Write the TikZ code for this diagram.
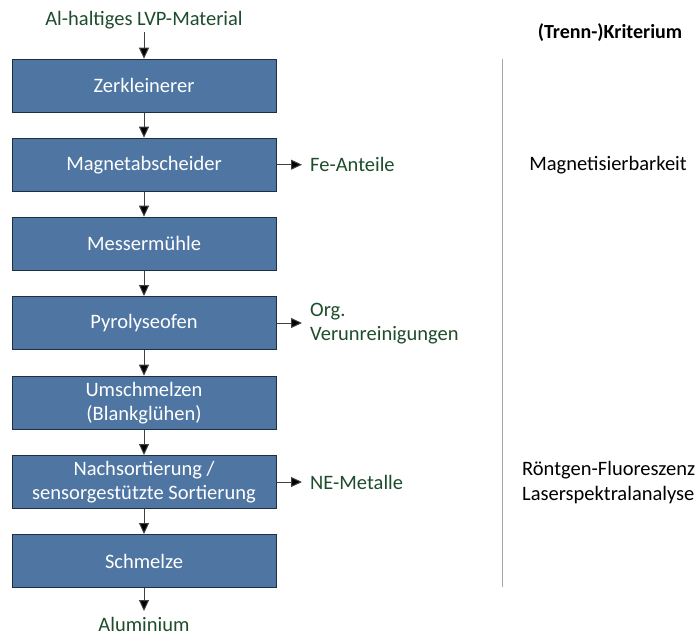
\documentclass[tikz,border=0pt]{standalone}
\usepackage{fontspec}
\setmainfont{Carlito}
\usetikzlibrary{arrows.meta}
\definecolor{boxfill}{HTML}{4F76A3}
\definecolor{boxline}{HTML}{1F2F42}
\definecolor{outgreen}{HTML}{1E4D2B}
\definecolor{sepgray}{HTML}{A6A6A6}
\tikzset{
  stepbox/.style={draw=boxline, line width=1pt, fill=boxfill, text=white,
    minimum width=264pt, minimum height=53pt, align=center, inner sep=0pt,
    font=\fontsize{20.5}{24}\selectfont},
  outtext/.style={text=outgreen, font=\fontsize{20.5}{24}\selectfont, align=left, inner sep=0pt},
  crit/.style={text=black, font=\fontsize{20.5}{25}\selectfont, align=left, inner sep=0pt},
  flow/.style={draw=black!75, line width=1pt, -{Triangle[length=11pt,width=10pt,fill=black]}}
}
\begin{document}
\begin{tikzpicture}[x=1pt,y=-1pt]
  \useasboundingbox (0,0) rectangle (700,637);

  % process chain
  \node[stepbox] (s1) at (144,85.7) {Zerkleinerer};
  \node[stepbox] (s2) at (144,164.7) {Magnetabscheider};
  \node[stepbox] (s3) at (144,243.7) {Messermühle};
  \node[stepbox] (s4) at (144,323) {Pyrolyseofen};
  \node[stepbox] (s5) at (144,402.7) {Umschmelzen\\(Blankglühen)};
  \node[stepbox] (s6) at (144,482) {Nachsortierung /\\sensorgestützte Sortierung};
  \node[stepbox] (s7) at (144,561) {Schmelze};

  % input and output
  \node[outtext, anchor=base] (in) at (144,25) {Al-haltiges LVP-Material};
  \node[outtext, anchor=base] (out) at (144,631) {Aluminium};
  \coordinate (inend) at (144,32);
  \coordinate (outend) at (144,611);

  \draw[flow] (inend) -- (s1.north);
  \draw[flow] (s1) -- (s2);
  \draw[flow] (s2) -- (s3);
  \draw[flow] (s3) -- (s4);
  \draw[flow] (s4) -- (s5);
  \draw[flow] (s5) -- (s6);
  \draw[flow] (s6) -- (s7);
  \draw[flow] (s7.south) -- (outend);

  % separated fractions
  \node[outtext, anchor=west] (fe) at (310,164.7) {Fe-Anteile};
  \node[outtext, anchor=west] (org) at (310,324) {Org.\\Verunreinigungen};
  \node[outtext, anchor=west] (ne) at (310,482) {NE-Metalle};
  \coordinate (fetip) at (302,164.7);
  \coordinate (orgtip) at (302,323);
  \coordinate (netip) at (302,482);
  \draw[flow] (s2.east) -- (fetip);
  \draw[flow] (s4.east) -- (orgtip);
  \draw[flow] (s6.east) -- (netip);

  % separation criteria column
  \coordinate (septop) at (502.7,59);
  \coordinate (sepbot) at (502.7,587);
  \draw[sepgray, line width=1pt] (septop) -- (sepbot);
  \node[crit, font=\fontsize{20}{24}\selectfont\bfseries, anchor=center] (head) at (610,33) {(Trenn-)Kriterium};
  \node[crit, anchor=center] (magn) at (608,164.7) {Magnetisierbarkeit};
  \node[crit, anchor=west] (sens) at (522,482.5) {Röntgen-Fluoreszenz\\Laserspektralanalyse};
\end{tikzpicture}
\end{document}
